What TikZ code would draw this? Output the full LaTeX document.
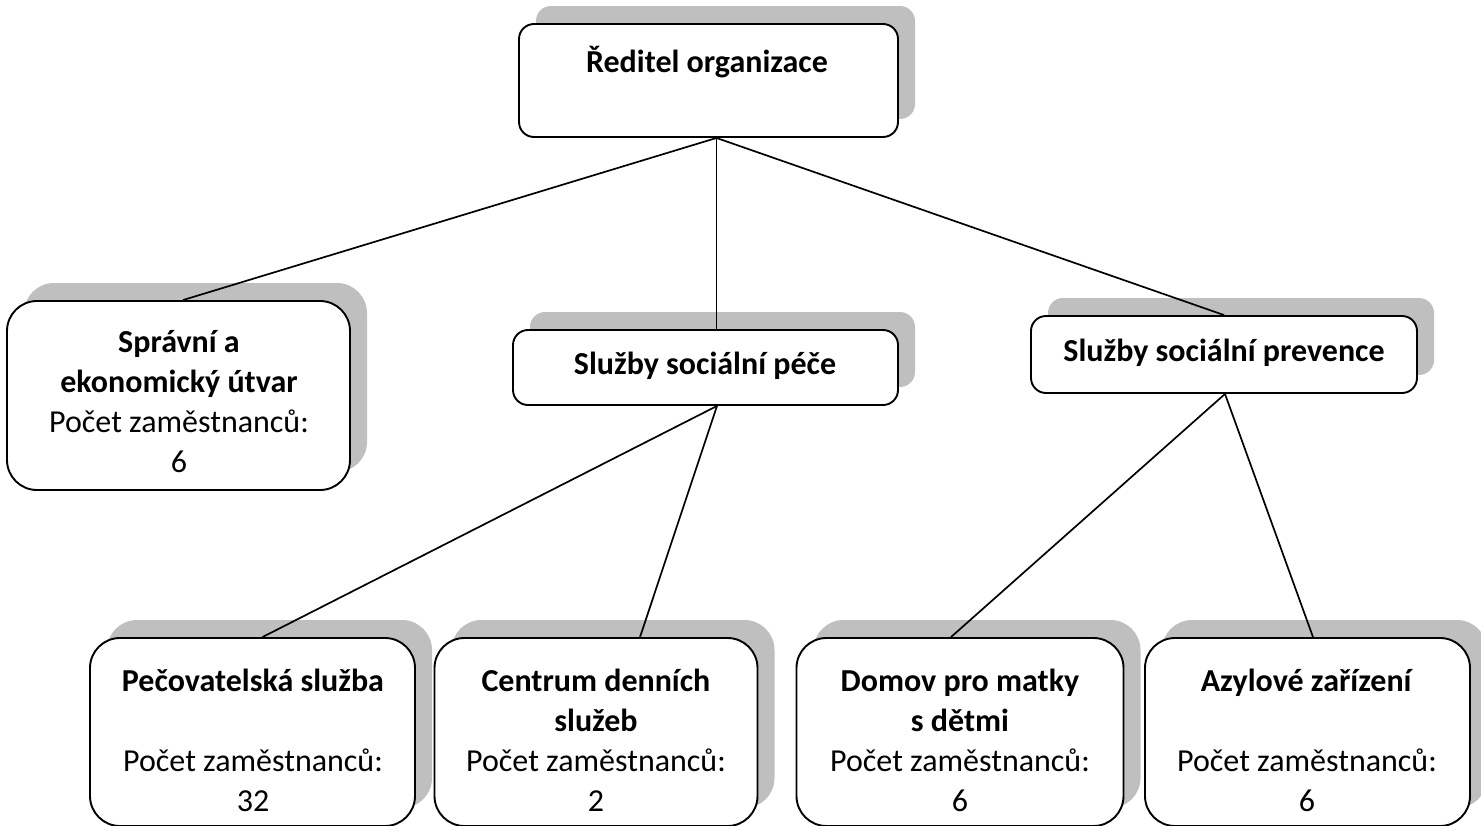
\documentclass[tikz,border=0pt]{standalone}
\usepackage{fontspec}
\setmainfont{Carlito}
\usetikzlibrary{shadows}
\definecolor{shadowgray}{RGB}{191,191,191}
\tikzset{
  orgbox/.style={draw=black, line width=1.9pt, fill=white, inner sep=0pt,
    drop shadow={shadow xshift=17pt, shadow yshift=18pt, fill=shadowgray, opacity=1}},
  smallr/.style={rounded corners=15pt},
  bigr/.style={rounded corners=30pt},
  txt/.style={align=center, inner sep=0pt, font=\fontsize{32}{40}\selectfont},
  conn/.style={draw=black, line width=1.7pt}
}
\begin{document}
\begin{tikzpicture}[x=1pt,y=-1pt]
\useasboundingbox (0,0) rectangle (1481,825);
\begin{scope}
\clip (0,0) rectangle (1481,825);
% boxes
\node[orgbox, smallr, minimum width=379pt, minimum height=113pt] (dir) at (708.5,80.5) {};
\node[orgbox, bigr, minimum width=343pt, minimum height=189pt] (spr) at (178.5,395.5) {};
\node[orgbox, smallr, minimum width=385pt, minimum height=75pt] (pece) at (705.5,367.5) {};
\node[orgbox, smallr, minimum width=386pt, minimum height=77pt] (prev) at (1224,354.5) {};
\node[orgbox, bigr, minimum width=325pt, minimum height=188pt] (pec) at (252.5,732) {};
\node[orgbox, bigr, minimum width=323pt, minimum height=188pt] (cen) at (596,732) {};
\node[orgbox, bigr, minimum width=327pt, minimum height=188pt] (dom) at (960,732) {};
\node[orgbox, bigr, minimum width=325pt, minimum height=188pt] (azy) at (1307.5,732) {};
% texts
\node[txt] (dirt) at (707,62) {\textbf{Ředitel organizace}};
\node[txt] (sprt) at (179,402) {\textbf{Správní a}\\\textbf{ekonomický útvar}\\Počet zaměstnanců:\\6};
\node[txt] (pecet) at (705,366) {\textbf{Služby sociální péče}};
\node[txt] (prevt) at (1224,353) {\textbf{Služby sociální prevence}};
\node[txt] (pect) at (253,740) {\textbf{Pečovatelská služba}\\\strut\\Počet zaměstnanců:\\32};
\node[txt] (cent) at (596,740) {\textbf{Centrum denních}\\\textbf{služeb}\\Počet zaměstnanců:\\2};
\node[txt] (domt) at (960,740) {\textbf{Domov pro matky}\\\textbf{s dětmi}\\Počet zaměstnanců:\\6};
\node[txt] (azyt) at (1307,740) {\textbf{Azylové zařízení}\\\strut\\Počet zaměstnanců:\\6};
% connectors
\coordinate (dirb) at ([xshift=8pt]dir.south);
\coordinate (peceb) at ([xshift=11.5pt]pece.south);
\coordinate (prevb) at ([xshift=1pt]prev.south);
\draw[conn] (dirb) -- ([xshift=4.5pt]spr.north);
\draw[conn] (dirb) -- (dirb |- pece.north);
\draw[conn] (dirb) -- (prev.north);
\draw[conn] (peceb) -- ([xshift=10pt]pec.north);
\draw[conn] (peceb) -- ([xshift=44pt]cen.north);
\draw[conn] (prevb) -- ([xshift=-9pt]dom.north);
\draw[conn] (prevb) -- ([xshift=5.5pt]azy.north);
\end{scope}
\end{tikzpicture}
\end{document}
